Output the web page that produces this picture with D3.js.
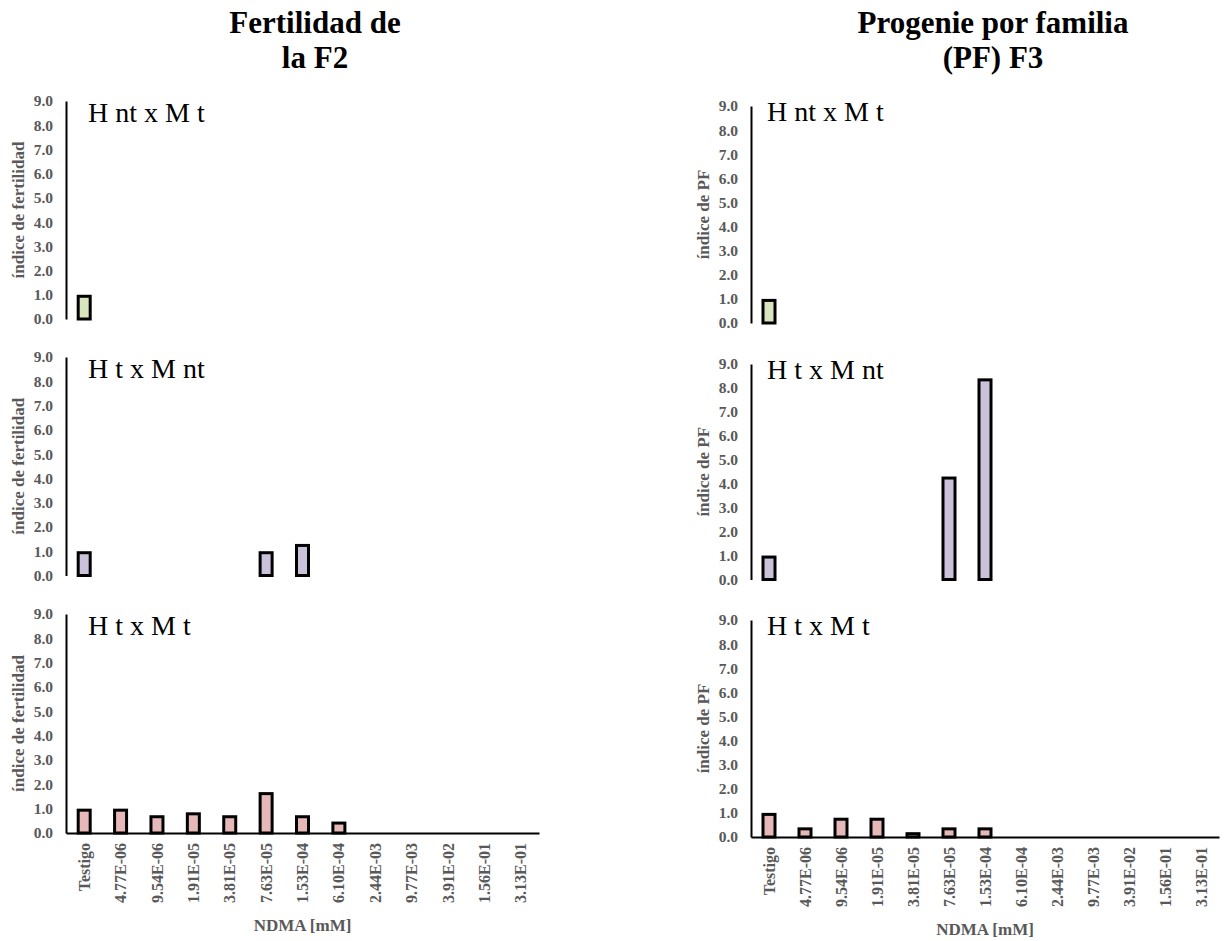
<!DOCTYPE html>
<html>
<head>
<meta charset="utf-8">
<script src="https://cdn.jsdelivr.net/npm/d3@7"></script>
<style>
  body { margin: 0; background: #fff; }
  svg { display: block; font-family: "Liberation Serif", "Times New Roman", serif; }
</style>
</head>
<body>
<div id="chart"></div>
<script>
// categories of the x axis (NDMA concentration)
const categories = ["Testigo", "4.77E-06", "9.54E-06", "1.91E-05", "3.81E-05", "7.63E-05",
    "1.53E-04", "6.10E-04", "2.44E-03", "9.77E-03", "3.91E-02", "1.56E-01", "3.13E-01"];
const yTicks = [0, 1, 2, 3, 4, 5, 6, 7, 8, 9];

// Fertilidad de la F2
const fertHntMt = [1.0, null, null, null, null, null, null, null, null, null, null, null, null];
const fertHtMnt = [1.0, null, null, null, null, 1.0, 1.3, null, null, null, null, null, null];
const fertHtMt  = [1.0, 1.0, 0.73, 0.85, 0.73, 1.68, 0.73, 0.47, null, null, null, null, null];

// Progenie por familia (PF) F3
const pfHntMt = [1.0, null, null, null, null, null, null, null, null, null, null, null, null];
const pfHtMnt = [1.0, null, null, null, null, 4.3, 8.4, null, null, null, null, null, null];
const pfHtMt  = [1.0, 0.4, 0.8, 0.8, 0.2, 0.4, 0.4, 0.05, null, null, null, null, null];

const W = 1225, H = 941;
const gray = "#595959";

const svg = d3.select("#chart").append("svg")
    .attr("width", W)
    .attr("height", H);

// titles
function title(x, lines) {
    lines.forEach(function(t, i) {
        svg.append("text")
            .attr("x", x).attr("y", 33 + i * 35)
            .attr("text-anchor", "middle")
            .attr("font-weight", "bold")
            .attr("font-size", "31px")
            .attr("fill", "#000")
            .text(t);
    });
}
title(315, ["Fertilidad de", "la F2"]);
title(993, ["Progenie por familia", "(PF) F3"]);

function panel(opt) {
    let x = d3.scaleBand().domain(categories).range([opt.x0, opt.x1]);
    let y = d3.scaleLinear().domain([0, 9]).range([opt.y0, opt.y9]);
    let g = svg.append("g");

    // y axis line + labels
    let ya = g.append("g")
        .attr("transform", "translate(" + opt.x0 + ",0)")
        .call(d3.axisLeft(y).tickValues(yTicks).tickSize(0).tickPadding(13)
            .tickFormat(d3.format(".1f")));
    ya.select(".domain").attr("stroke", "#000").attr("stroke-width", 2);
    ya.selectAll("text")
        .attr("font-family", "Liberation Serif")
        .attr("font-size", "15.5px")
        .attr("font-weight", "bold")
        .attr("fill", gray);

    // y axis title
    g.append("text")
        .attr("transform", "translate(" + opt.ytx + "," + ((opt.y0 + opt.y9) / 2) + ") rotate(-90)")
        .attr("text-anchor", "middle")
        .attr("dominant-baseline", "central")
        .attr("font-weight", "bold")
        .attr("font-size", "17px")
        .attr("fill", gray)
        .text(opt.ytitle);

    // panel label
    g.append("text")
        .attr("x", opt.lx).attr("y", opt.y9 + opt.ly)
        .attr("font-size", "28px")
        .attr("fill", "#000")
        .text(opt.label);

    // bars
    let data = categories.map(function(c, i) { return {cat: c, value: opt.values[i]}; })
        .filter(function(d) { return d.value != null; });
    let bw = 12;
    g.selectAll("rect.bar")
        .data(data)
        .enter()
        .append("rect")
        .attr("class", "bar")
        .attr("x", function(d) { return x(d.cat) + x.bandwidth() / 2 - bw / 2; })
        .attr("y", function(d) { return Math.min(y(d.value) + 1.5, y(0)); })
        .attr("width", bw)
        .attr("height", function(d) { return Math.max(y(0) - y(d.value) - 1.5, 0); })
        .attr("fill", opt.color)
        .attr("stroke", "#000")
        .attr("stroke-width", 3);

    if (opt.xaxis) {
        let xa = g.append("g")
            .attr("transform", "translate(0," + opt.y0 + ")")
            .call(d3.axisBottom(x).tickSize(0).tickPadding(0).tickSizeOuter(0));
        xa.select(".domain").attr("stroke", "#000").attr("stroke-width", 2);
        xa.selectAll("text")
            .attr("font-family", "Liberation Serif")
            .attr("font-size", "16px")
            .attr("font-weight", "bold")
            .attr("fill", gray)
            .attr("text-anchor", "end")
            .attr("dy", "0.35em")
            .attr("transform", "translate(0,10) rotate(-90)")
            .attr("x", 0).attr("y", 0);

        g.append("text")
            .attr("x", (opt.x0 + opt.x1) / 2).attr("y", opt.xty)
            .attr("text-anchor", "middle")
            .attr("font-weight", "bold")
            .attr("font-size", "17px")
            .attr("fill", gray)
            .text("NDMA [mM]");
    }
}

// left column
let L = {x0: 66, x1: 539, ytx: 18, lx: 88, ly: 21, ytitle: "índice de fertilidad"};
panel(Object.assign({}, L, {y0: 319, y9: 101, values: fertHntMt, color: "#d7e4bd", label: "H nt x M t"}));
panel(Object.assign({}, L, {y0: 575.5, y9: 357, values: fertHtMnt, color: "#ccc1da", label: "H t x M nt"}));
panel(Object.assign({}, L, {y0: 833, y9: 614, values: fertHtMt, color: "#e6b9b8", label: "H t x M t", xaxis: true, xty: 931}));

// right column
let R = {x0: 751, x1: 1219, ytx: 703, lx: 767, ly: 15, ytitle: "índice de PF"};
panel(Object.assign({}, R, {y0: 323, y9: 106, values: pfHntMt, color: "#d7e4bd", label: "H nt x M t"}));
panel(Object.assign({}, R, {y0: 579.5, y9: 364, values: pfHtMnt, color: "#ccc1da", label: "H t x M nt"}));
panel(Object.assign({}, R, {y0: 837, y9: 620, values: pfHtMt, color: "#e6b9b8", label: "H t x M t", xaxis: true, xty: 935}));
</script>
</body>
</html>
